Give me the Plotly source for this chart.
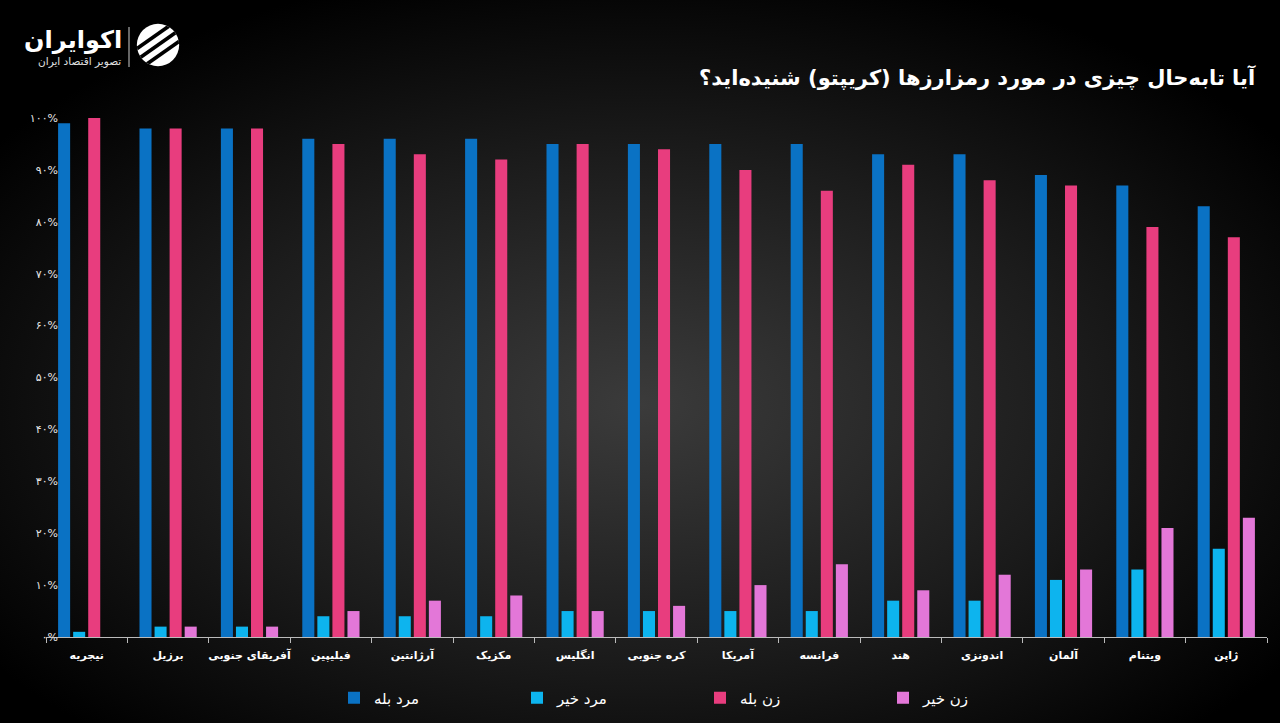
import base64
import plotly.graph_objects as go

countries = ["نیجریه", "برزیل", "آفریقای جنوبی", "فیلیپین", "آرژانتین", "مکزیک", "انگلیس",
             "کره جنوبی", "آمریکا", "فرانسه", "هند", "اندونزی", "آلمان", "ویتنام", "ژاپن"]
man_yes = [99, 98, 98, 96, 96, 96, 95, 95, 95, 95, 93, 93, 89, 87, 83]
man_no = [1, 2, 2, 4, 4, 4, 5, 5, 5, 5, 7, 7, 11, 13, 17]
woman_yes = [100, 98, 98, 95, 93, 92, 95, 94, 90, 86, 91, 88, 87, 79, 77]
woman_no = [0, 2, 2, 5, 7, 8, 5, 6, 10, 14, 9, 12, 13, 21, 23]

series_names = ["مرد بله", "مرد خیر", "زن بله", "زن خیر"]
series_colors = ["#0a72c4", "#0db4ee", "#e83d7e", "#e377d8"]

y_tickvals = [0, 10, 20, 30, 40, 50, 60, 70, 80, 90, 100]
y_ticktext = ["۰%", "۱۰%", "۲۰%", "۳۰%", "۴۰%", "۵۰%", "۶۰%", "۷۰%", "۸۰%", "۹۰%", "۱۰۰%"]

title_text = "آیا تابه‌حال چیزی در مورد رمزارزها (کریپتو) شنیده‌اید؟"
logo_main = "اکوایران"
logo_sub = "تصویر اقتصاد ایران"

W, H = 1280, 723
L, R, T, B = 46, 13, 118, 86
PW, PH = W - L - R, H - T - B


def px(x):
    return (x - L) / PW


def py(y):
    return (H - B - y) / PH


FONT = "DejaVu Sans"

fig = go.Figure()
for name, vals, col in zip(series_names, [man_yes, man_no, woman_yes, woman_no], series_colors):
    fig.add_trace(go.Bar(x=countries, y=vals, name=name, marker=dict(color=col, line=dict(width=0))))

bg_svg = ('<svg xmlns="http://www.w3.org/2000/svg" width="1280" height="723">'
          '<defs><radialGradient id="g" cx="50%" cy="56%" r="62%">'
          '<stop offset="0" stop-color="#3b3b3b"/><stop offset="0.55" stop-color="#1c1c1c"/>'
          '<stop offset="1" stop-color="#000000"/></radialGradient></defs>'
          '<rect width="1280" height="723" fill="url(#g)"/></svg>')
bg_src = "data:image/svg+xml;base64," + base64.b64encode(bg_svg.encode()).decode()

icon_svg = ('<svg xmlns="http://www.w3.org/2000/svg" width="50" height="50" viewBox="0 0 50 50">'
            '<defs><clipPath id="c"><circle cx="25" cy="25" r="23"/></clipPath></defs>'
            '<g clip-path="url(#c)"><rect width="50" height="50" fill="#ffffff"/>'
            '<g transform="rotate(-35 25 25)" fill="#000000">'
            '<rect x="-20" y="13" width="90" height="4"/>'
            '<rect x="-20" y="23" width="90" height="4"/>'
            '<rect x="-20" y="33" width="90" height="4"/>'
            '</g></g></svg>')
icon_src = "data:image/svg+xml;base64," + base64.b64encode(icon_svg.encode()).decode()

fig.update_layout(
    width=W, height=H,
    margin=dict(l=L, r=R, t=T, b=B, autoexpand=False),
    paper_bgcolor="#000000",
    plot_bgcolor="rgba(0,0,0,0)",
    font=dict(family=FONT, color="#ffffff"),
    barmode="group",
    bargap=0.26,
    bargroupgap=0.2,
    showlegend=True,
    legend=dict(orientation="h", x=px(334), xanchor="left", y=py(698), yanchor="middle",
                font=dict(size=15, color="#ffffff", family=FONT), entrywidth=138,
                bgcolor="rgba(0,0,0,0)", traceorder="normal"),
    images=[
        dict(source=bg_src, xref="paper", yref="paper", x=px(0), y=py(0),
             sizex=W / PW, sizey=H / PH, sizing="stretch", xanchor="left", yanchor="top",
             layer="below"),
        dict(source=icon_src, xref="paper", yref="paper", x=px(135), y=py(22),
             sizex=46 / PW, sizey=46 / PH, sizing="stretch", xanchor="left", yanchor="top",
             layer="above"),
    ],
    xaxis=dict(
        type="category", showgrid=False, showline=True, linecolor="#bbbbbb", linewidth=1,
        ticks="outside", tickson="boundaries", ticklen=5, tickcolor="#bbbbbb",
        tickangle=0, automargin=False, ticklabelstandoff=8,
        tickfont=dict(size=11, color="#ffffff", family=FONT),
        tickvals=countries, ticktext=["<b>" + c + "</b>" for c in countries],
        zeroline=False,
    ),
    yaxis=dict(
        range=[0, 100], showgrid=False, zeroline=False, showline=False, automargin=False,
        tickvals=y_tickvals, ticktext=y_ticktext,
        tickfont=dict(size=11, color="#e6e6e6", family=FONT),
        ticklabelstandoff=-13,
    ),
    annotations=[
        dict(text="<b>" + title_text + "</b>", xref="paper", yref="paper", x=px(1258), y=py(78),
             xanchor="right", yanchor="middle", showarrow=False,
             font=dict(size=21, color="#ffffff", family=FONT)),
        dict(text="<b>" + logo_main + "</b>", xref="paper", yref="paper", x=px(124), y=py(40),
             xanchor="right", yanchor="middle", showarrow=False,
             font=dict(size=24, color="#ffffff", family=FONT)),
        dict(text=logo_sub, xref="paper", yref="paper", x=px(123), y=py(62),
             xanchor="right", yanchor="middle", showarrow=False,
             font=dict(size=10.5, color="#e0e0e0", family=FONT)),
    ],
    shapes=[
        dict(type="line", xref="paper", yref="paper", x0=px(129), x1=px(129), y0=py(27), y1=py(67),
             line=dict(color="#cccccc", width=1)),
    ],
)

fig.write_html("out.html")
